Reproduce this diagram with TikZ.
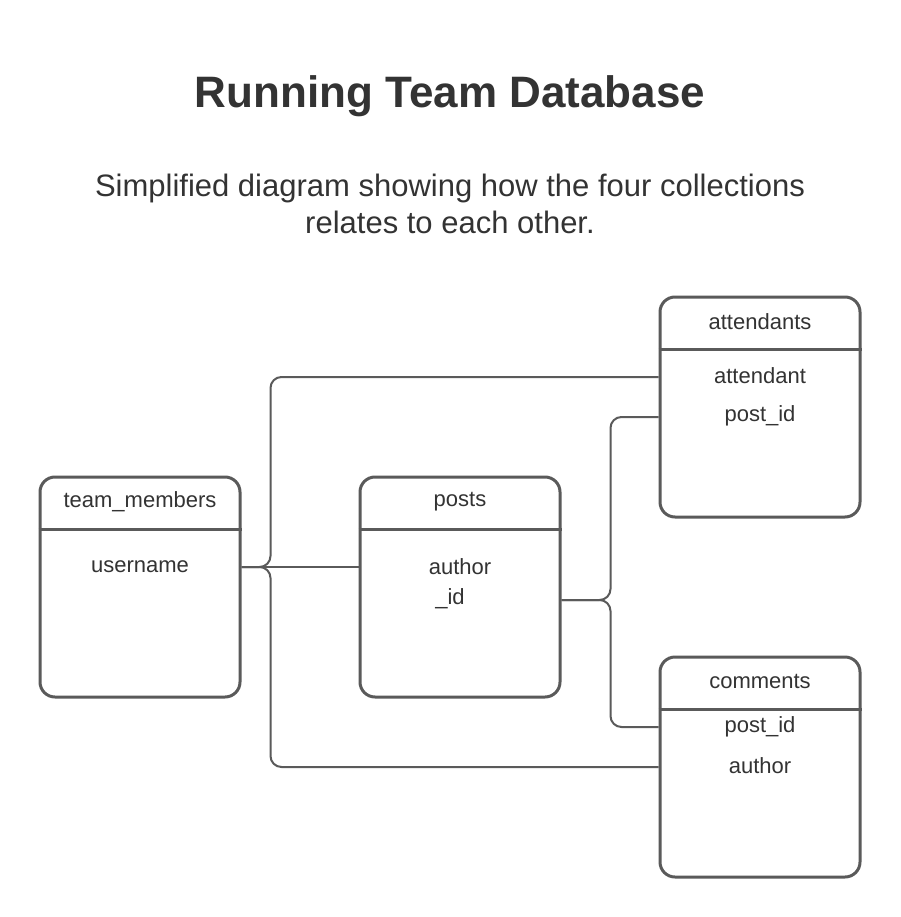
\documentclass[tikz,border=0pt]{standalone}
\usepackage{fontspec}
\setmainfont{Liberation Sans}
\usetikzlibrary{positioning}

\definecolor{linegray}{HTML}{5A5A5A}
\definecolor{textgray}{HTML}{333333}

\tikzset{
  collection/.style={draw=linegray, line width=3pt, rounded corners=15pt,
    minimum width=200pt, minimum height=220pt, inner sep=0pt},
  fieldtext/.style={text=textgray, font=\fontsize{22}{26}\selectfont},
  link/.style={draw=linegray, line width=2pt, rounded corners=11pt},
}

\begin{document}
\begin{tikzpicture}[x=1pt, y=-1pt]
    % Page
    \fill[white] (0,0) rectangle (900,917);
    \useasboundingbox (0,0) rectangle (900,917);

    % Headings
    \node[text=textgray, font=\fontsize{44}{53}\selectfont\bfseries] (title) at (450,96) {Running Team Database};
    \node[text=textgray, font=\fontsize{31}{37}\selectfont, align=center] (subtitle) at (450,204)
        {Simplified diagram showing how the four collections\\relates to each other.};

    % Collections
    \node[collection] (members) at (140,587) {};
    \node[collection] (posts) at (460,587) {};
    \node[collection] (attendants) at (760,407) {};
    \node[collection] (comments) at (760,767) {};

    % Header lines
    \foreach \coll in {members, posts, attendants, comments}
        \draw[linegray, line width=3pt] ([yshift=-54pt]\coll.north west) -- ([yshift=-54pt]\coll.north east);

    % Names and fields
    \node[fieldtext] (membersName) at ([yshift=-26pt]members.north) {team\_members};
    \node[fieldtext] (username) at ([yshift=-91pt]members.north) {username};

    \node[fieldtext] (postsName) at ([yshift=-26pt]posts.north) {posts};
    \node[fieldtext] (author) at ([yshift=-91pt]posts.north) {author};
    \node[fieldtext] (postId) at ([xshift=-10pt, yshift=-123pt]posts.north) {\_id};

    \node[fieldtext] (attendantsName) at ([yshift=-26pt]attendants.north) {attendants};
    \node[fieldtext] (attendant) at ([yshift=-80pt]attendants.north) {attendant};
    \node[fieldtext] (attPostId) at ([yshift=-120pt]attendants.north) {post\_id};

    \node[fieldtext] (commentsName) at ([yshift=-26pt]comments.north) {comments};
    \node[fieldtext] (comPostId) at ([yshift=-71pt]comments.north) {post\_id};
    \node[fieldtext] (comAuthor) at ([yshift=-110pt]comments.north) {author};

    % Links from team_members
    \draw[link] ([yshift=20pt]members.east) -- ([yshift=20pt]posts.west);
    \draw[link] ([yshift=20pt]members.east) -- ++(29,0) |- ([yshift=30pt]attendants.west);
    \draw[link] ([yshift=20pt]members.east) -- ++(29,0) |- (comments.west);

    % Links from posts
    \draw[link] ([yshift=-13pt]posts.east) -- ++(49,0) |- ([yshift=-10pt]attendants.west);
    \draw[link] ([yshift=-13pt]posts.east) -- ++(49,0) |- ([yshift=40pt]comments.west);
\end{tikzpicture}
\end{document}
